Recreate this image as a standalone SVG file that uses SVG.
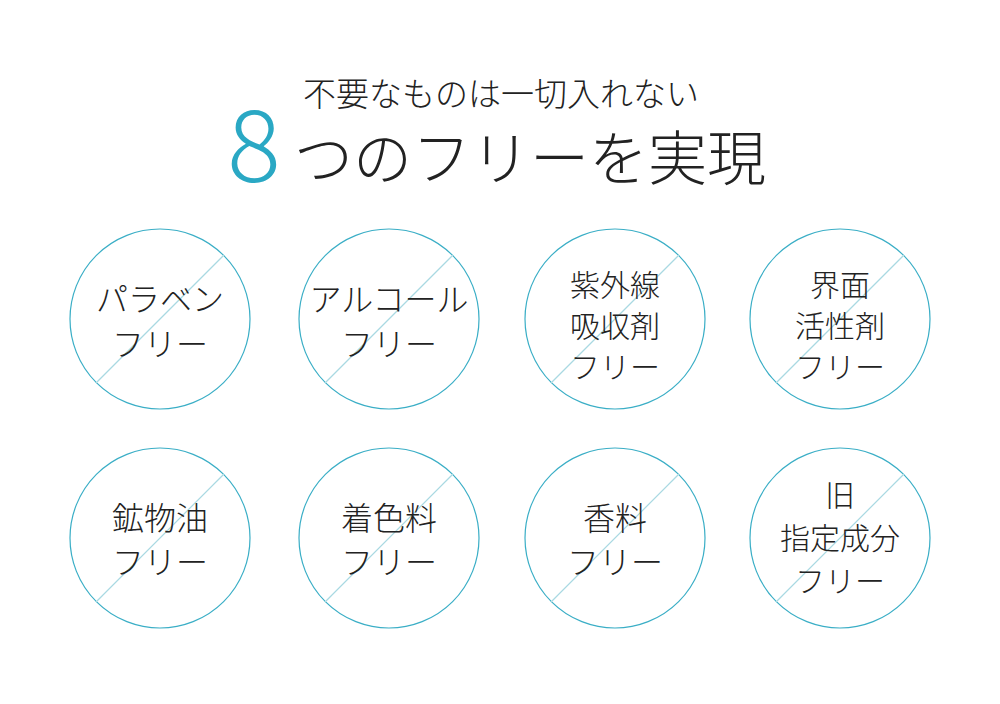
<svg xmlns="http://www.w3.org/2000/svg" width="1000" height="704" viewBox="0 0 1000 704">
<style>
text{font-family:"Noto Sans CJK JP","Noto Sans CJK SC",sans-serif;fill:#222;text-anchor:middle;font-weight:300}
.c{fill:#fff;stroke:#3aaec6;stroke-width:1.2}
.d{stroke:#a9d9e2;stroke-width:1.2}
.t{font-size:32px}
.s{font-size:30px}
</style>
<rect width="1000" height="704" fill="#fff"/>
<g id="title">
<text x="501" y="106" font-size="33">不要なものは一切入れない</text>
<text x="254" y="182" font-size="100" style="fill:#2aa8c4">8</text>
<text x="530" y="180" font-size="59">つのフリーを実現</text>
</g>
<g id="connectors"></g>
<g id="n1"><circle class="c" cx="160" cy="319" r="90"/><line class="d" x1="96" y1="383" x2="224" y2="255"/><text class="t" x="160" y="311">パラベン</text><text class="t" x="160" y="356">フリー</text></g>
<g id="n2"><circle class="c" cx="389" cy="319" r="90"/><line class="d" x1="325" y1="383" x2="453" y2="255"/><text class="t" x="389" y="311">アルコール</text><text class="t" x="389" y="356">フリー</text></g>
<g id="n3"><circle class="c" cx="615" cy="319" r="90"/><line class="d" x1="551" y1="383" x2="679" y2="255"/><text class="s" x="615" y="296">紫外線</text><text class="s" x="615" y="337">吸収剤</text><text class="s" x="615" y="378">フリー</text></g>
<g id="n4"><circle class="c" cx="840" cy="319" r="90"/><line class="d" x1="776" y1="383" x2="904" y2="255"/><text class="s" x="840" y="296">界面</text><text class="s" x="840" y="337">活性剤</text><text class="s" x="840" y="378">フリー</text></g>
<g id="n5"><circle class="c" cx="160" cy="538" r="90"/><line class="d" x1="96" y1="602" x2="224" y2="474"/><text class="t" x="160" y="530">鉱物油</text><text class="t" x="160" y="574">フリー</text></g>
<g id="n6"><circle class="c" cx="389" cy="538" r="90"/><line class="d" x1="325" y1="602" x2="453" y2="474"/><text class="t" x="389" y="530">着色料</text><text class="t" x="389" y="574">フリー</text></g>
<g id="n7"><circle class="c" cx="615" cy="538" r="90"/><line class="d" x1="551" y1="602" x2="679" y2="474"/><text class="t" x="615" y="530">香料</text><text class="t" x="615" y="574">フリー</text></g>
<g id="n8"><circle class="c" cx="840" cy="538" r="90"/><line class="d" x1="776" y1="602" x2="904" y2="474"/><text class="s" x="840" y="506">旧</text><text class="s" x="840" y="549">指定成分</text><text class="s" x="840" y="592">フリー</text></g>
</svg>
